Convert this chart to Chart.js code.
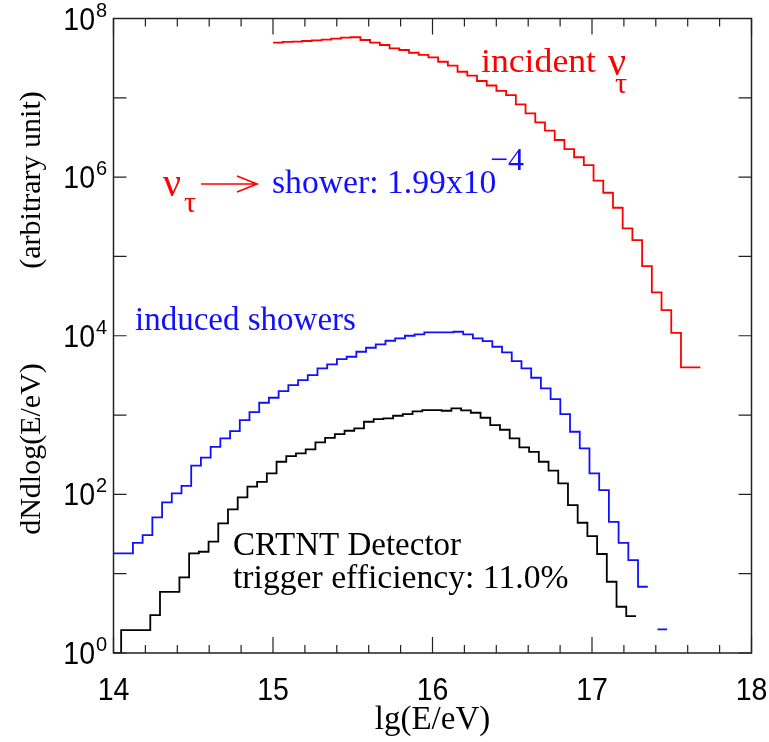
<!DOCTYPE html>
<html>
<head>
<meta charset="utf-8">
<script src="https://cdn.jsdelivr.net/npm/chart.js@4"></script>
<style>
  html, body { margin: 0; padding: 0; background: #ffffff; }
  #wrap { width: 769px; height: 742px; position: relative; }
</style>
</head>
<body>
<div id="wrap"><canvas id="c" width="769" height="742"></canvas></div>
<script>
// ---------------- data ----------------
const BIN_WIDTH = 0.0609;            // lg(E/eV) per histogram bin
const X_TICK_LABELS = [14, 15, 16, 17, 18];
const Y_TICK_LABELS = [1, 1e2, 1e4, 1e6, 1e8];

// incident nu_tau (red), first bin starts at lg(E)=15.0
const RED_START = 15.0;
const RED_VALUES = [
  4.95e7, 5.06e7, 5.10e7, 5.20e7, 5.31e7, 5.41e7, 5.56e7, 5.73e7, 5.80e7, 5.36e7,
  4.95e7, 4.63e7, 4.21e7, 4.01e7, 3.70e7, 3.47e7, 3.24e7, 2.85e7, 2.54e7, 2.13e7,
  1.90e7, 1.63e7, 1.43e7, 1.22e7, 1.08e7, 8.28e6, 6.38e6, 4.91e6, 3.85e6, 2.94e6,
  2.26e6, 1.78e6, 1.42e6, 9.01e5, 6.35e5, 4.11e5, 2.26e5, 1.61e5, 7.57e4, 3.53e4,
  2.11e4, 1.09e4, 4.00e3, 4.00e3
];

// induced showers (blue), first bin starts at lg(E)=14.0
const BLUE_START = 14.0;
const BLUE_VALUES = [
  18.0, 18.0, 24.5, 30.7, 51.3, 79.3, 103, 128, 230, 290,
  398, 508, 629, 865, 1091, 1429, 1652, 2008, 2390, 2762,
  3193, 3880, 4358, 5086, 5437, 6285, 7059, 7795, 8650, 9270,
  10000, 10420, 11040, 11040, 11040, 11230, 10420, 9270, 8570, 7265,
  6180, 4800, 3880, 2953, 2172, 1592, 1030, 616, 380, 184,
  113, 45.1, 24.5, 14.8, 6.84, null, 1.99
];

// CRTNT detector triggered (black)
const BLACK_START = 13.987;
const BLACK_VALUES = [
  1.0, 1.94, 1.94, 1.94, 3.01, 5.91, 5.91, 8.98, 18.0, 18.9,
  25.3, 43.1, 64.7, 91.6, 125, 144, 184, 258, 304, 329,
  369, 453, 517, 576, 634, 679, 823, 891, 908, 980,
  1030, 1114, 1156, 1156, 1133, 1214, 1146, 1069, 925, 748,
  653, 508, 392, 344, 258, 199, 138, 73.3, 43.9, 29.8,
  17.7, 7.91, 3.83, 2.92
];

// ---------------- helpers ----------------
function histPoints(start, vals) {
  const pts = [];
  vals.forEach((v, i) => {
    const x0 = start + i * BIN_WIDTH, x1 = x0 + BIN_WIDTH;
    if (v === null) { pts.push({ x: x0, y: null }); return; }
    pts.push({ x: x0, y: v }, { x: x1, y: v });
  });
  return pts;
}

const SERIF = '"Liberation Serif", "Times New Roman", serif';
const SANS = '"Liberation Sans", Arial, sans-serif';
const RED = '#ff0000', BLUE = '#1010ff', BLACK = '#000000';

function stretchText(ctx, txt, x, y, sx) {
  ctx.save();
  ctx.translate(x, y);
  ctx.scale(sx, 1);
  ctx.fillText(txt, 0, 0);
  ctx.restore();
}

const decorPlugin = {
  id: 'decor',
  afterDatasetsDraw(chart) {
    const ctx = chart.ctx;
    const xs = chart.scales.x, ys = chart.scales.y;
    const { left, right, top, bottom } = chart.chartArea;
    ctx.save();
    // frame
    ctx.strokeStyle = '#222';
    ctx.lineWidth = 1.5;
    ctx.strokeRect(left, top, right - left, bottom - top);
    // x ticks (major at integers, minor every 0.2), both bottom and top, inward
    ctx.lineWidth = 1.2;
    for (let k = 0; k <= 20; k++) {
      const v = 14 + k * 0.2;
      const px = xs.getPixelForValue(v);
      const major = k % 5 === 0;
      const len = major ? 16 : 8;
      ctx.beginPath();
      ctx.moveTo(px, bottom); ctx.lineTo(px, bottom - len);
      ctx.moveTo(px, top); ctx.lineTo(px, top + len);
      ctx.stroke();
    }
    // y ticks every decade, both sides, inward
    for (let d = 0; d <= 8; d++) {
      const py = ys.getPixelForValue(Math.pow(10, d));
      ctx.beginPath();
      ctx.moveTo(left, py); ctx.lineTo(left + 13, py);
      ctx.moveTo(right, py); ctx.lineTo(right - 13, py);
      ctx.stroke();
    }
    // x tick labels
    ctx.fillStyle = '#000';
    ctx.font = '31px ' + SANS;
    ctx.textAlign = 'center';
    ctx.textBaseline = 'alphabetic';
    X_TICK_LABELS.forEach(v => {
      ctx.save();
      ctx.translate(xs.getPixelForValue(v), 700);
      ctx.scale(0.92, 1);
      ctx.fillText(String(v), 0, 0);
      ctx.restore();
    });
    // y tick labels 10^n
    Y_TICK_LABELS.forEach(v => {
      const py = ys.getPixelForValue(v);
      const e = Math.round(Math.log10(v));
      ctx.font = '31px ' + SANS;
      ctx.textAlign = 'right';
      ctx.save();
      ctx.translate(95, py + 11);
      ctx.scale(0.92, 1);
      ctx.fillText('10', 0, 0);
      ctx.restore();
      ctx.font = '20px ' + SANS;
      ctx.textAlign = 'left';
      ctx.fillText(String(e), 96, py - 2);
    });
    // axis titles
    ctx.font = '33px ' + SERIF;
    ctx.textAlign = 'center';
    ctx.fillText('lg(E/eV)', (left + right) / 2, 729);
    ctx.save();
    ctx.translate(40, 0);
    ctx.rotate(-Math.PI / 2);
    ctx.font = '30px ' + SERIF;
    ctx.fillText('dNdlog(E/eV)', -449, 0);
    ctx.fillText('(arbitrary unit)', -180, 0);
    ctx.restore();

    // annotations
    ctx.textAlign = 'left';
    // incident nu_tau
    ctx.fillStyle = RED;
    ctx.font = '34px ' + SERIF;
    stretchText(ctx, 'incident', 481, 72, 1.05);
    ctx.font = '40px ' + SERIF;
    ctx.fillText('\u03BD', 608, 75);
    ctx.font = '30px ' + SERIF;
    ctx.fillText('\u03C4', 615, 93);
    // nu_tau -> shower
    ctx.font = '40px ' + SERIF;
    ctx.fillText('\u03BD', 163, 196);
    ctx.font = '30px ' + SERIF;
    ctx.fillText('\u03C4', 184, 212);
    ctx.strokeStyle = RED;
    ctx.lineWidth = 1.6;
    ctx.beginPath();
    ctx.moveTo(201, 184); ctx.lineTo(257, 184);
    ctx.moveTo(237, 176); ctx.lineTo(257, 184); ctx.lineTo(237, 192);
    ctx.stroke();
    ctx.fillStyle = BLUE;
    ctx.font = '33px ' + SERIF;
    stretchText(ctx, 'shower: 1.99x10', 272, 193, 1.02);
    ctx.font = '32px ' + SERIF;
    ctx.fillText('\u22124', 490, 170);
    // induced showers
    ctx.font = '33px ' + SERIF;
    ctx.fillText('induced showers', 135, 330);
    // CRTNT
    ctx.fillStyle = BLACK;
    ctx.font = '33px ' + SERIF;
    stretchText(ctx, 'CRTNT Detector', 233, 555, 1.0);
    stretchText(ctx, 'trigger efficiency: 11.0%', 233, 588, 1.02);
    ctx.restore();
  }
};

new Chart(document.getElementById('c'), {
  type: 'line',
  data: {
    datasets: [
      { label: 'incident', data: histPoints(RED_START, RED_VALUES), borderColor: RED, borderWidth: 1.8 },
      { label: 'induced showers', data: histPoints(BLUE_START, BLUE_VALUES), borderColor: BLUE, borderWidth: 1.8 },
      { label: 'CRTNT', data: histPoints(BLACK_START, BLACK_VALUES), borderColor: BLACK, borderWidth: 1.8 }
    ]
  },
  options: {
    responsive: false,
    animation: false,
    devicePixelRatio: 1,
    spanGaps: false,
    elements: { point: { radius: 0 }, line: { tension: 0, fill: false } },
    layout: { padding: { left: 113.5, right: 17.5, top: 18.5, bottom: 89 } },
    plugins: { legend: { display: false }, tooltip: { enabled: false } },
    scales: {
      x: { type: 'linear', min: 14, max: 18, display: false },
      y: { type: 'logarithmic', min: 1, max: 1e8, display: false }
    }
  },
  plugins: [decorPlugin]
});
</script>
</body>
</html>
